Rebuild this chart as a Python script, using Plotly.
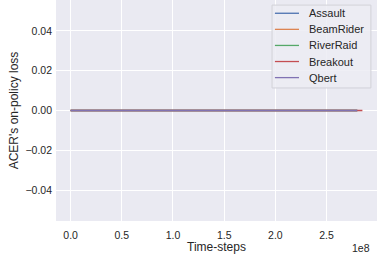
import plotly.graph_objs as go

# ACER on-policy loss per game (all flat at zero)
games = ['Assault', 'BeamRider', 'RiverRaid', 'Breakout', 'Qbert']
steps = {
    'Assault': [0.0, 1.0e8, 2.0e8, 2.80e8],
    'BeamRider': [0.0, 1.0e8, 2.0e8, 2.80e8],
    'RiverRaid': [0.0, 1.0e8, 2.0e8, 2.80e8],
    'Breakout': [0.0, 1.0e8, 2.0e8, 2.85e8],
    'Qbert': [0.0, 1.0e8, 2.0e8, 2.80e8],
}
loss = {
    'Assault': [0.0, 0.0, 0.0, 0.0],
    'BeamRider': [0.0, 0.0, 0.0, 0.0],
    'RiverRaid': [0.0, 0.0, 0.0, 0.0],
    'Breakout': [0.0, 0.0, 0.0, 0.0],
    'Qbert': [0.0, 0.0, 0.0, 0.0],
}
colors = ['#4C72B0', '#DD8452', '#55A868', '#C44E52', '#8172B3']

x_ticks = [0, 0.5e8, 1.0e8, 1.5e8, 2.0e8, 2.5e8]
x_labels = ['0.0', '0.5', '1.0', '1.5', '2.0', '2.5']
y_ticks = [-0.04, -0.02, 0.0, 0.02, 0.04]
y_labels = ['\u22120.04', '\u22120.02', '0.00', '0.02', '0.04']

fig = go.Figure()
for game, color in zip(games, colors):
    fig.add_trace(go.Scatter(
        x=steps[game], y=loss[game], mode='lines', name=game,
        line=dict(color=color, width=1.5), showlegend=False
    ))

# matplotlib-style legend box (plotly's native rows are too tall)
shapes = [dict(
    type='rect', xref='paper', yref='paper',
    x0=0.673, x1=0.981, y0=0.602, y1=0.977,
    fillcolor='rgba(236,236,243,0.85)', line=dict(color='#D2D2D8', width=1),
    layer='above',
)]
annotations = []
row_top, row_gap = 0.940, 0.0728
for i, (game, color) in enumerate(zip(games, colors)):
    yy = row_top - i * row_gap
    shapes.append(dict(
        type='line', xref='paper', yref='paper',
        x0=0.682, x1=0.757, y0=yy, y1=yy,
        line=dict(color=color, width=1.3), layer='above',
    ))
    annotations.append(dict(
        text=game, xref='paper', yref='paper', x=0.783, y=yy,
        xanchor='left', yanchor='middle', showarrow=False,
        font=dict(size=11, color='#262626'),
    ))

annotations.append(dict(
    text='1e8', xref='paper', yref='paper', x=0.985, y=-0.085,
    xanchor='right', yanchor='top', showarrow=False,
    font=dict(size=10.5, color='#262626'),
))

font = 'Liberation Sans, Arial, sans-serif'
fig.update_layout(
    width=378, height=256,
    margin=dict(l=56, r=1, t=0, b=35),
    paper_bgcolor='white',
    plot_bgcolor='#EAEAF2',
    font=dict(family=font, size=10.5, color='#262626'),
    showlegend=False,
    xaxis=dict(
        range=[-0.1425e8, 2.9925e8],
        tickvals=x_ticks, ticktext=x_labels,
        showgrid=True, gridcolor='white', gridwidth=1,
        zeroline=False, showline=False, ticks='', ticklabelstandoff=6,
        title=dict(text='Time-steps', font=dict(size=12), standoff=3),
    ),
    yaxis=dict(
        range=[-0.0555, 0.0555],
        tickvals=y_ticks, ticktext=y_labels,
        showgrid=True, gridcolor='white', gridwidth=1,
        zeroline=False, showline=False, ticks='', ticklabelstandoff=3,
        title=dict(text="ACER's on-policy loss", font=dict(size=12), standoff=4),
    ),
    shapes=shapes,
    annotations=annotations,
)

fig.write_html('out.html', config={'displayModeBar': False},
               post_script="document.body.style.margin='0';document.body.style.padding='0';")
